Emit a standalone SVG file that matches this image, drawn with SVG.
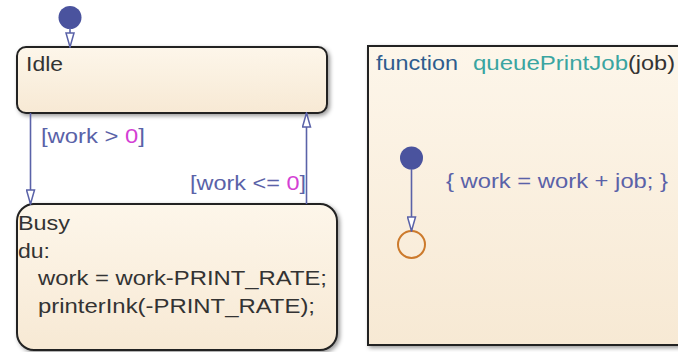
<svg xmlns="http://www.w3.org/2000/svg" width="678" height="352" viewBox="0 0 678 352">
<style>
  text { font-family: "Liberation Sans", Arial, sans-serif; font-size: 21px; }
  .state { stroke: #222; stroke-width: 2; fill: url(#cream); filter: url(#shadow); }
  .st { fill: #333; }
  .lbl { fill: #5a62a8; }
  .num { fill: #d43fd4; }
  .conn { stroke: #5a62a8; stroke-width: 1.6; fill: none; }
  .dot { fill: #4a539e; }
</style>
<defs>
  <linearGradient id="cream" x1="0" y1="0" x2="0" y2="1">
    <stop offset="0" stop-color="#fdf6ea"/>
    <stop offset="1" stop-color="#f7e9d4"/>
  </linearGradient>
  <filter id="shadow" x="-10%" y="-10%" width="125%" height="125%">
    <feDropShadow dx="2" dy="2" stdDeviation="2" flood-color="#000" flood-opacity="0.4"/>
  </filter>
  <marker id="arr" viewBox="0 0 16 10" refX="15" refY="5" markerWidth="16" markerHeight="10" markerUnits="userSpaceOnUse" orient="auto">
    <path d="M1,1 L15,5 L1,9 Z" fill="#fff" stroke="#5a62a8" stroke-width="1.5"/>
  </marker>
</defs>

<g id="idle">
  <rect class="state" x="17" y="47" width="310" height="66" rx="9"/>
  <text class="st" x="26" y="71" textLength="37" lengthAdjust="spacingAndGlyphs">Idle</text>
</g>

<g id="busy">
  <rect class="state" x="17" y="204" width="320" height="146" rx="17"/>
  <text class="st" x="18" y="230" textLength="52" lengthAdjust="spacingAndGlyphs">Busy</text>
  <text class="st" x="18" y="258" textLength="32" lengthAdjust="spacingAndGlyphs">du:</text>
  <text class="st" x="38" y="285" textLength="289" lengthAdjust="spacingAndGlyphs">work = work-PRINT_RATE;</text>
  <text class="st" x="38" y="313" textLength="277" lengthAdjust="spacingAndGlyphs">printerInk(-PRINT_RATE);</text>
</g>

<g id="queuePrintJob">
  <rect class="state" x="368" y="46" width="320" height="299"/>
  <text x="376" y="70" fill="#2e5c8e" textLength="82" lengthAdjust="spacingAndGlyphs">function</text>
  <text x="473" y="70" fill="#3aa5a1" textLength="155" lengthAdjust="spacingAndGlyphs">queuePrintJob</text>
  <text x="628" y="70" fill="#333" textLength="47" lengthAdjust="spacingAndGlyphs">(job)</text>
</g>

<g id="initial-default">
  <circle class="dot" cx="70" cy="17.5" r="11.5"/>
</g>

<g id="junction-default">
  <circle class="dot" cx="411.5" cy="158" r="11.5"/>
</g>

<g id="terminal">
  <circle cx="411.5" cy="244.5" r="13.5" fill="none" stroke="#cc7a2c" stroke-width="2"/>
</g>

<g id="connectors">
  <line class="conn" x1="70" y1="28" x2="70" y2="47" marker-end="url(#arr)"/>
  <line class="conn" x1="30.5" y1="113" x2="30.5" y2="204" marker-end="url(#arr)"/>
  <line class="conn" x1="306.5" y1="204" x2="306.5" y2="113" marker-end="url(#arr)"/>
  <line class="conn" x1="411.5" y1="169" x2="411.5" y2="231" marker-end="url(#arr)"/>
  <text class="lbl" x="41" y="143" textLength="104" lengthAdjust="spacingAndGlyphs">[work &gt; <tspan class="num">0</tspan>]</text>
  <text class="lbl" x="190" y="190" textLength="116" lengthAdjust="spacingAndGlyphs">[work &lt;= <tspan class="num">0</tspan>]</text>
  <text class="lbl" x="446" y="188" textLength="222" lengthAdjust="spacingAndGlyphs">{ work = work + job; }</text>
</g>
</svg>
